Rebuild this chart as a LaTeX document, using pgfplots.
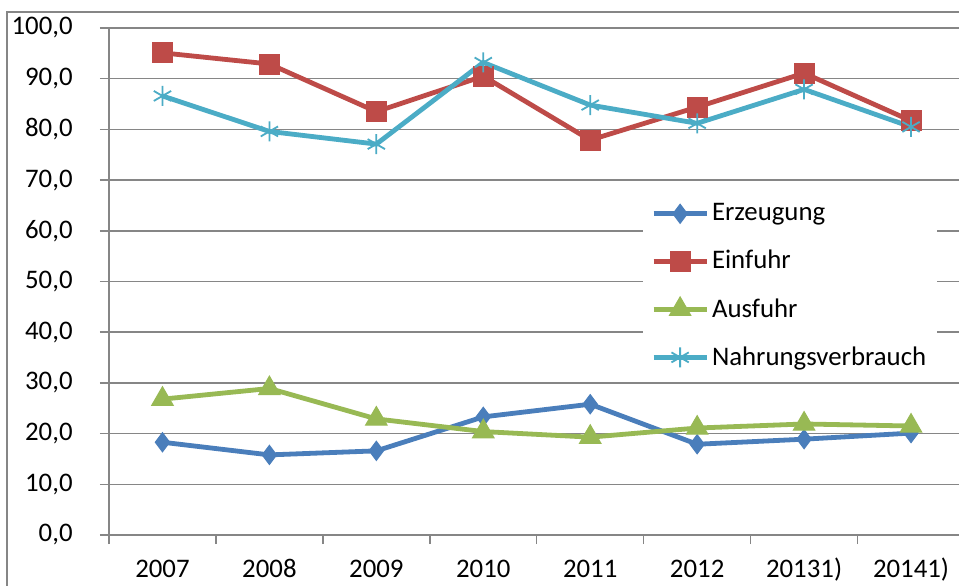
\documentclass[border=0pt]{standalone}
\usepackage{fontspec}
\setmainfont{Carlito}
\usepackage{pgfplots}
\pgfplotsset{compat=1.18}
\definecolor{cblue}{HTML}{4A7EBB}
\definecolor{cred}{HTML}{BE4B48}
\definecolor{cgreen}{HTML}{98B954}
\definecolor{ccyan}{HTML}{4BACC6}
\definecolor{cgrid}{HTML}{868686}
\begin{document}
\begin{tikzpicture}
\path[use as bounding box] (0,0) rectangle (479.5pt,-292.5pt);
\fill[white] (0,0) rectangle (479.5pt,-292.5pt);
\draw[cgrid, line width=1pt] (3.5pt,-300pt) -- (3.5pt,-6pt) -- (490pt,-6pt);
\begin{axis}[
  at={(54.5pt,-267.5pt)}, anchor=south west,
  scale only axis, width=427.75pt, height=253.5pt,
  xmin=-0.5, xmax=7.5, ymin=0, ymax=100,
  axis lines*=left,
  axis line style={cgrid, line width=0.75pt},
  xtick={0,...,7},
  xticklabels={2007,2008,2009,2010,2011,2012,{20131)},{20141)}},
  minor xtick={-0.5,0.5,...,7.5},
  ytick={0,10,...,100},
  ymajorgrids,
  grid style={cgrid, line width=0.75pt},
  tick align=outside,
  major tick length=4.5pt, minor tick length=4.5pt,
  x tick style={draw=none},
  minor x tick style={draw=cgrid, line width=0.75pt},
  y tick style={cgrid, line width=0.75pt},
  tick label style={font=\fontsize{13.4}{16}\selectfont, text=black},
  yticklabel style={anchor=east, inner sep=0pt, xshift=-13.5pt},
  xticklabel style={anchor=base, inner sep=0pt, yshift=-16.5pt},
  legend style={at={(0.624,0.676)}, anchor=north west, draw=none, fill=white,
    font=\fontsize{13.4}{16}\selectfont, row sep=10.25pt, inner xsep=4pt, inner ysep=4pt,
    nodes={inner sep=1.5pt}},
  legend cell align=left,
  legend image code/.code={\draw[mark repeat=2,mark phase=2,#1] plot coordinates {(0pt,0pt) (13.25pt,0pt) (26.5pt,0pt)};},
  /pgf/number format/.cd, fixed, fixed zerofill, precision=1, use comma, 1000 sep={}, assume math mode=true,
]
\addplot[cblue, line width=2.4pt, mark=diamond*, mark size=4.8pt, mark options={solid, fill=cblue, line width=0.5pt}]
  coordinates {(0,18.3) (1,15.8) (2,16.6) (3,23.3) (4,25.8) (5,17.9) (6,18.9) (7,20.1)};
\addlegendentry{Erzeugung}
\addplot[cred, line width=2.4pt, mark=square*, mark size=5pt, mark options={solid, fill=cred, line width=0.5pt}]
  coordinates {(0,95.1) (1,92.9) (2,83.5) (3,90.5) (4,77.9) (5,84.4) (6,91.1) (7,81.7)};
\addlegendentry{Einfuhr}
\addplot[cgreen, line width=2.4pt, mark=triangle*, mark size=6.2pt, mark options={solid, fill=cgreen, line width=0.5pt}]
  coordinates {(0,26.8) (1,28.9) (2,22.9) (3,20.4) (4,19.3) (5,21.1) (6,21.9) (7,21.5)};
\addlegendentry{Ausfuhr}
\addplot[ccyan, line width=2.4pt, mark=asterisk, mark size=5pt, mark options={solid, line width=0.9pt}]
  coordinates {(0,86.6) (1,79.6) (2,77.1) (3,93.2) (4,84.8) (5,81.2) (6,87.9) (7,80.5)};
\addlegendentry{Nahrungsverbrauch\hspace{6pt}}
\end{axis}
\end{tikzpicture}
\end{document}
